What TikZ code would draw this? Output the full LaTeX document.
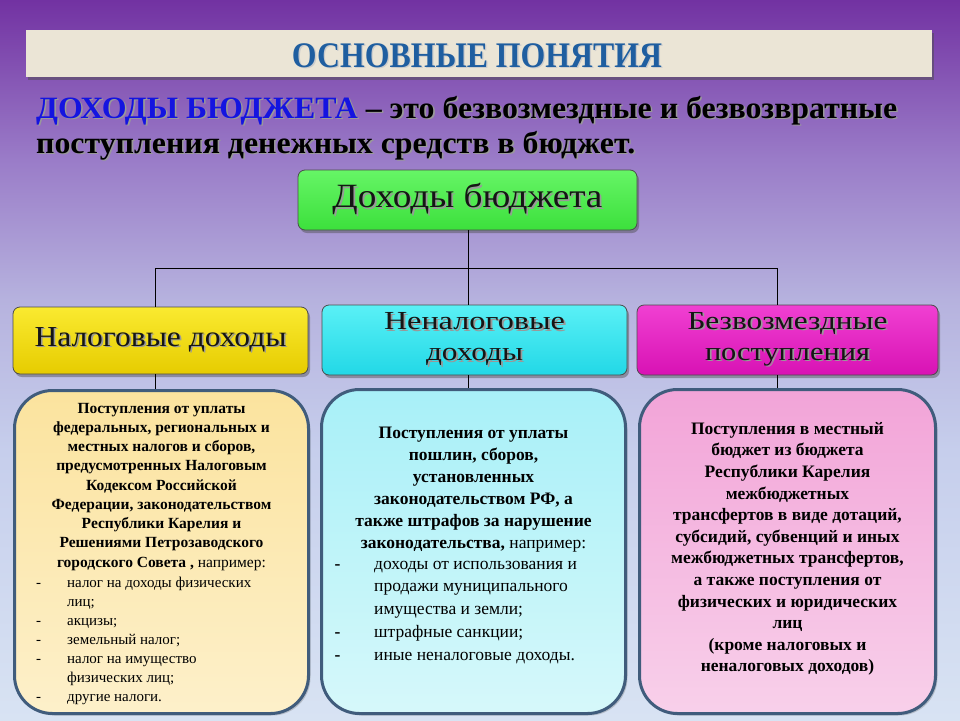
\documentclass[tikz,border=0pt]{standalone}
\usepackage{fontspec}
\setmainfont{Liberation Serif}
\usepackage{graphicx}
\usetikzlibrary{shadows}
\definecolor{bgtop}{HTML}{7232A2}
\definecolor{bgA}{HTML}{9A7CC8}
\definecolor{bgB}{HTML}{B6B2DE}
\definecolor{bgC}{HTML}{C6CEEC}
\definecolor{bgbot}{HTML}{D8E3F3}
\definecolor{titlec}{HTML}{1F5EA0}
\definecolor{dohblue}{HTML}{1414E0}
\definecolor{barfill}{HTML}{EBE5D6}
\definecolor{headtxt}{HTML}{151515}
\definecolor{greenT}{HTML}{66F566}
\definecolor{greenB}{HTML}{3CE03C}
\definecolor{yellowT}{HTML}{FAEA30}
\definecolor{yellowB}{HTML}{E6CC00}
\definecolor{cyanT}{HTML}{5AF0F6}
\definecolor{cyanB}{HTML}{22D8E6}
\definecolor{magT}{HTML}{F040D2}
\definecolor{magB}{HTML}{D812B4}
\definecolor{bodyline}{HTML}{405C7C}
\definecolor{lyT}{HTML}{FBE39E}
\definecolor{lyB}{HTML}{FDF0CA}
\definecolor{lcT}{HTML}{A8F0F8}
\definecolor{lcB}{HTML}{D6F8FA}
\definecolor{lpT}{HTML}{F2A4D8}
\definecolor{lpB}{HTML}{F8D0EA}
\pgfdeclareverticalshading{bgshade}{100bp}{color(0bp)=(bgbot); color(25bp)=(bgbot); color(43.75bp)=(bgC); color(54.2bp)=(bgB); color(63.9bp)=(bgA); color(75bp)=(bgtop); color(100bp)=(bgtop)}
\newcommand\shd[2][black!40]{\leavevmode\rlap{\kern1.5pt\raisebox{-1.5pt}{\color{#1}#2}}#2}
\newcommand\fitw[2]{\resizebox{#1}{\height}{#2}}
\tikzset{
  hbox/.style={draw=black!70, line width=0.8pt, rounded corners=7pt, inner sep=0pt, align=center, text=headtxt,
    drop shadow={shadow xshift=2pt, shadow yshift=-3pt, opacity=0.45, fill=black!70}},
  bodybox/.style={draw=bodyline, line width=3pt, rounded corners=38pt, inner sep=0pt,
    drop shadow={shadow xshift=2pt, shadow yshift=-2pt, opacity=0.3, fill=black!60}},
  conn/.style={draw=black, line width=0.8pt},
  para/.style={anchor=north, inner sep=0pt, align=center, text=black},
  lst/.style={anchor=north west, inner sep=0pt, align=left, text=black},
}
\begin{document}
\begin{tikzpicture}[x=1pt,y=-1pt]
\useasboundingbox (0,0) rectangle (960,720);
\fill[shading=bgshade] (0,0) rectangle (960,720);

% title bar
\node[fill=barfill, minimum width=906pt, minimum height=47pt, inner sep=0pt,
  drop shadow={shadow xshift=2pt, shadow yshift=-3pt, opacity=0.5, fill=black!70}] (titlebar) at (479,53.5) {};
\node[anchor=base, inner sep=0pt] (title) at (477,67)
  {\fitw{370pt}{\fontsize{36}{36}\selectfont\bfseries\color{titlec}\shd[black!20]{ОСНОВНЫЕ ПОНЯТИЯ}}};

% definition
\node[anchor=base west, inner sep=0pt] (introA) at (36,118)
  {\fitw{861pt}{\fontsize{31}{31}\selectfont\bfseries\textcolor{dohblue}{\shd{ДОХОДЫ БЮДЖЕТА}} \shd{–~это~безвозмездные~и~безвозвратные}}};
\node[anchor=base west, inner sep=0pt] (introB) at (36,153)
  {\fitw{599pt}{\fontsize{31}{31}\selectfont\bfseries\shd{поступления денежных средств в бюджет.}}};

% top box
\node[hbox, top color=greenT, bottom color=greenB, minimum width=339pt, minimum height=60pt,
  font=\fontsize{34}{34}\selectfont] (top) at (467.5,200) {\fitw{270pt}{\shd{Доходы бюджета}}};

% level 2
\node[hbox, top color=yellowT, bottom color=yellowB, minimum width=295pt, minimum height=67pt,
  font=\fontsize{29}{31}\selectfont] (tax) at (160.5,340.5) {\fitw{252pt}{\shd{Налоговые доходы}}};
\node[hbox, top color=cyanT, bottom color=cyanB, minimum width=305pt, minimum height=70pt,
  font=\fontsize{26}{31}\selectfont] (nontax) at (474.5,340) {\fitw{181pt}{\shd{Неналоговые}}\\\fitw{97pt}{\shd{доходы}}};
\node[hbox, top color=magT, bottom color=magB, minimum width=301pt, minimum height=70pt,
  font=\fontsize{26}{31}\selectfont] (free) at (787.5,340) {\fitw{200pt}{\shd{Безвозмездные}}\\\fitw{165pt}{\shd{поступления}}};

% level 3 boxes
\node[bodybox, top color=lyT, bottom color=lyB, minimum width=294pt, minimum height=323pt] (taxbody) at (161.5,552) {};
\node[bodybox, top color=lcT, bottom color=lcB, minimum width=304pt, minimum height=324pt] (nontaxbody) at (473.5,551.5) {};
\node[bodybox, top color=lpT, bottom color=lpB, minimum width=296pt, minimum height=324pt] (freebody) at (787.5,551.5) {};

% connectors
\coordinate (hub) at (468,268);
\coordinate (hubL) at (155,268);
\coordinate (hubR) at (777,268);
\draw[conn] (top.south -| hub) -- (hub);
\draw[conn] (hubL) -- (hubR);
\draw[conn] (hubL) -- (hubL |- tax.north);
\draw[conn] (hub) -- (hub |- nontax.north);
\draw[conn] (hubR) -- (hubR |- free.north);
\draw[conn] (hubL |- tax.south) -- (hubL |- taxbody.north);
\draw[conn] (hub |- nontax.south) -- (hub |- nontaxbody.north);
\draw[conn] (hubR |- free.south) -- (hubR |- freebody.north);

% texts of left box
\node[para, font=\fontsize{15.5}{19.25}\selectfont\bfseries] (taxtext) at (161.5,399.5)
 {\strut Поступления от уплаты\\
  федеральных, региональных и\\
  местных налогов и сборов,\\
  предусмотренных Налоговым\\
  Кодексом Российской\\
  Федерации, законодательством\\
  Республики Карелия и\\
  Решениями Петрозаводского\\
  городского Совета ,{\mdseries\ например:}};
\node[lst, font=\fontsize{15}{19}\selectfont] (taxlist) at (36,573.7)
 {\strut\makebox[31pt][l]{-}налог на доходы физических\\
  \hspace*{31pt}лиц;\\
  \makebox[31pt][l]{-}акцизы;\\
  \makebox[31pt][l]{-}земельный налог;\\
  \makebox[31pt][l]{-}налог на имущество\\
  \hspace*{31pt}физических лиц;\\
  \makebox[31pt][l]{-}другие налоги.};

% texts of middle box
\node[para, font=\fontsize{17.5}{22}\selectfont\bfseries] (nontaxtext) at (473.5,422.6)
 {\strut Поступления от уплаты\\
  пошлин, сборов,\\
  установленных\\
  законодательством РФ, а\\
  также штрафов за нарушение\\
  законодательства,{\mdseries\ например:}};
\node[lst, font=\fontsize{17.5}{22.75}\selectfont] (nontaxlist) at (334.5,553.1)
 {\strut\makebox[39.5pt][l]{\bfseries -}доходы от использования и\\
  \hspace*{39.5pt}продажи муниципального\\
  \hspace*{39.5pt}имущества и земли;\\
  \makebox[39.5pt][l]{\bfseries -}штрафные санкции;\\
  \makebox[39.5pt][l]{\bfseries -}иные неналоговые доходы.};

% texts of right box
\node[para, font=\fontsize{17.5}{21.6}\selectfont\bfseries] (freetext) at (787.5,418.9)
 {\strut Поступления в местный\\
  бюджет из бюджета\\
  Республики Карелия\\
  межбюджетных\\
  трансфертов в виде дотаций,\\
  субсидий, субвенций и иных\\
  межбюджетных трансфертов,\\
  а также поступления от\\
  физических и юридических\\
  лиц\\
  (кроме налоговых и\\
  неналоговых доходов)};
\end{tikzpicture}
\end{document}
